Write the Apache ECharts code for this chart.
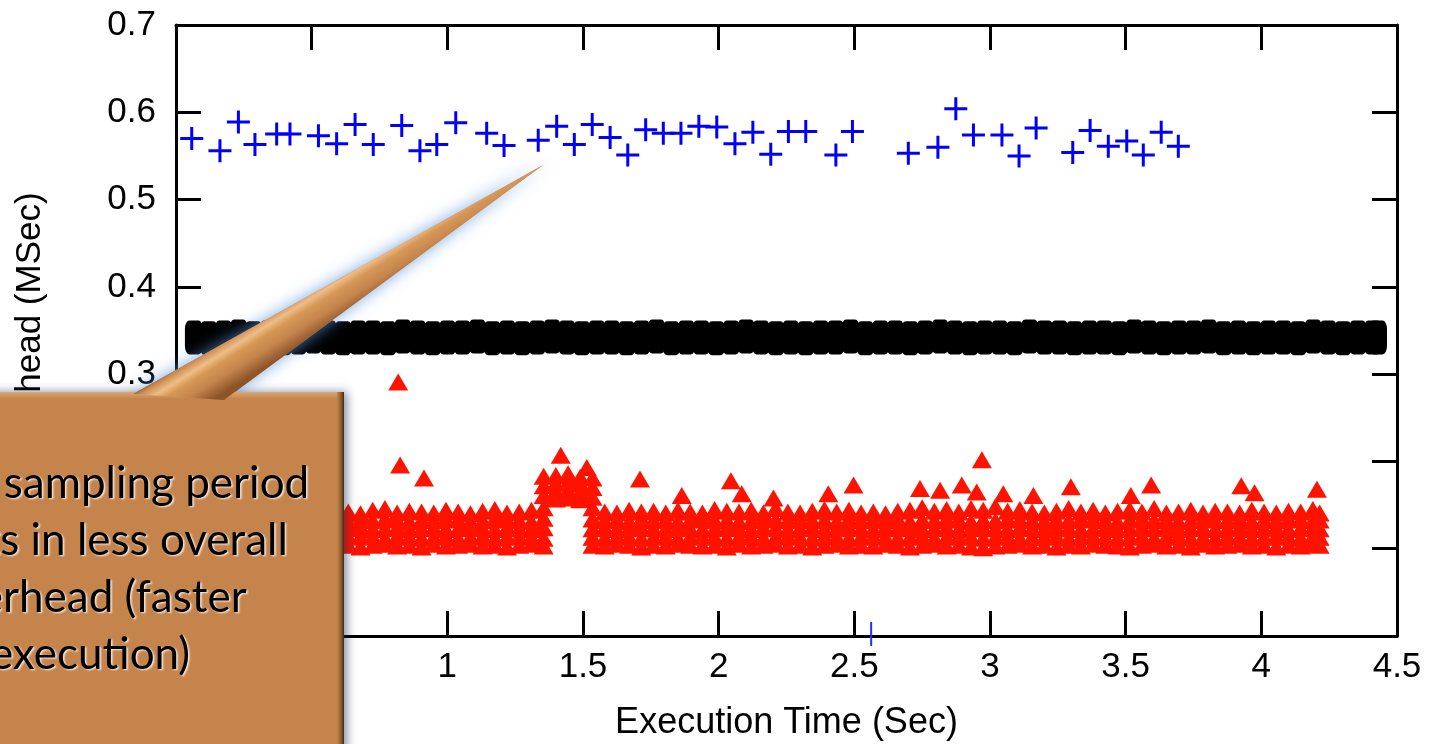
<!DOCTYPE html>
<html>
<head>
<meta charset="utf-8">
<title>Overhead vs Execution Time</title>
<script src="https://cdn.jsdelivr.net/npm/echarts@6/dist/echarts.min.js"></script>
<style>
  html, body { margin: 0; padding: 0; background: #ffffff; }
  #chart { width: 1435px; height: 744px; }
</style>
</head>
<body>
<div id="chart"></div>
<script>
// ---- axis text ----
const xTitle = 'Execution Time (Sec)';
const yTitle = 'Overhead (MSec)';
const calloutLines = ['Larger sampling period', 'results in less overall', 'overhead (faster', 'execution)'];

// ---- blue "+" samples (large sampling period) ----
const blueTimes = [0.058,0.162,0.230,0.291,0.371,0.420,0.525,0.592,0.660,0.727,
  0.832,0.899,0.961,1.031,1.145,1.209,1.335,1.403,1.468,1.534,
  1.600,1.665,1.731,1.796,1.861,1.927,1.993,2.060,2.126,2.192,
  2.257,2.321,2.432,2.493,2.699,2.808,2.874,2.939,3.044,3.107,
  3.170,3.305,3.369,3.436,3.504,3.565,3.631,3.694];
const blueOverhead = [0.570,0.556,0.589,0.563,0.575,0.575,0.573,0.564,0.586,0.563,
  0.585,0.556,0.563,0.588,0.576,0.562,0.568,0.584,0.563,0.586,
  0.571,0.551,0.580,0.576,0.576,0.584,0.583,0.564,0.577,0.552,
  0.578,0.578,0.551,0.578,0.553,0.560,0.604,0.574,0.574,0.550,
  0.582,0.554,0.579,0.561,0.567,0.551,0.577,0.561];

// ---- black samples (dense band) ----
const blackTimes = [0.066,0.121,0.176,0.231,0.286,0.341,0.396,0.451,0.506,0.561,
  0.616,0.671,0.726,0.781,0.836,0.891,0.946,1.001,1.056,1.111,
  1.166,1.221,1.276,1.331,1.386,1.441,1.496,1.551,1.606,1.661,
  1.716,1.771,1.826,1.881,1.936,1.991,2.046,2.101,2.156,2.211,
  2.266,2.321,2.376,2.431,2.486,2.541,2.596,2.651,2.706,2.761,
  2.816,2.871,2.926,2.981,3.036,3.091,3.146,3.201,3.256,3.311,
  3.366,3.421,3.476,3.531,3.586,3.641,3.696,3.751,3.806,3.861,
  3.916,3.971,4.026,4.081,4.136,4.191,4.246,4.301,4.356,4.411,4.430];
const blackOverhead = [0.342,0.341,0.342,0.343,0.341,0.342,0.341,0.342,0.343,0.342,
  0.341,0.342,0.342,0.341,0.343,0.342,0.341,0.342,0.342,0.343,
  0.341,0.342,0.341,0.342,0.343,0.342,0.341,0.342,0.342,0.341,
  0.342,0.343,0.341,0.342,0.342,0.341,0.342,0.343,0.342,0.341,
  0.342,0.341,0.342,0.342,0.343,0.341,0.342,0.342,0.341,0.342,
  0.343,0.342,0.341,0.342,0.342,0.341,0.343,0.342,0.342,0.341,
  0.342,0.342,0.341,0.343,0.342,0.341,0.342,0.342,0.343,0.341,
  0.342,0.341,0.342,0.342,0.341,0.343,0.342,0.341,0.342,0.342,0.342];

// ---- red triangle samples (dense band, five overlapping levels per time step) ----
const redTimes = [0.500,0.545,0.590,0.635,0.680,0.725,0.770,0.815,0.860,0.905,
  0.950,0.995,1.040,1.085,1.130,1.175,1.220,1.265,1.310,1.355,
  1.400,1.445,1.490,1.535,1.580,1.625,1.670,1.715,1.760,1.805,
  1.850,1.895,1.940,1.985,2.030,2.075,2.120,2.165,2.210,2.255,
  2.300,2.345,2.390,2.435,2.480,2.525,2.570,2.615,2.660,2.705,
  2.750,2.795,2.840,2.885,2.930,2.975,3.020,3.065,3.110,3.155,
  3.200,3.245,3.290,3.335,3.380,3.425,3.470,3.515,3.560,3.605,
  3.650,3.695,3.740,3.785,3.830,3.875,3.920,3.965,4.010,4.055,
  4.100,4.145,4.190,4.215];
const redLevel1 = [0.143,0.141,0.145,0.142,0.140,0.144,0.146,0.141,0.143,0.142,
  0.141,0.144,0.142,0.140,0.143,0.145,0.141,0.142,0.144,0.147,
  0.184,0.186,0.182,0.147,0.142,0.141,0.144,0.142,0.143,0.141,
  0.144,0.142,0.141,0.145,0.143,0.142,0.144,0.141,0.146,0.142,
  0.141,0.143,0.145,0.142,0.144,0.141,0.142,0.140,0.143,0.144,
  0.147,0.143,0.145,0.142,0.146,0.144,0.148,0.143,0.145,0.142,
  0.141,0.143,0.146,0.142,0.144,0.141,0.143,0.145,0.142,0.146,
  0.141,0.142,0.144,0.141,0.143,0.142,0.141,0.144,0.142,0.141,
  0.143,0.142,0.145,0.141];
const redLevel2 = [0.133,0.132,0.134,0.131,0.133,0.132,0.134,0.133,0.131,0.133,
  0.132,0.134,0.133,0.131,0.132,0.134,0.133,0.132,0.131,0.135,
  0.175,0.176,0.174,0.134,0.132,0.133,0.131,0.134,0.132,0.133,
  0.131,0.133,0.134,0.132,0.133,0.131,0.132,0.134,0.133,0.132,
  0.134,0.132,0.133,0.131,0.134,0.132,0.133,0.132,0.134,0.131,
  0.133,0.132,0.134,0.133,0.131,0.133,0.132,0.134,0.133,0.132,
  0.131,0.133,0.132,0.134,0.133,0.132,0.131,0.133,0.134,0.132,
  0.133,0.131,0.132,0.134,0.133,0.132,0.134,0.131,0.133,0.132,
  0.134,0.133,0.132,0.133];
const redLevel3 = [0.123,0.124,0.122,0.123,0.125,0.122,0.123,0.124,0.122,0.123,
  0.124,0.122,0.123,0.125,0.123,0.122,0.124,0.123,0.122,0.124,
  0.166,0.167,0.165,0.123,0.124,0.122,0.123,0.124,0.123,0.122,
  0.124,0.123,0.122,0.123,0.125,0.123,0.122,0.124,0.123,0.122,
  0.123,0.124,0.122,0.123,0.124,0.123,0.122,0.124,0.123,0.125,
  0.122,0.123,0.124,0.122,0.123,0.124,0.123,0.122,0.124,0.123,
  0.122,0.124,0.123,0.122,0.123,0.124,0.122,0.123,0.125,0.123,
  0.124,0.122,0.123,0.124,0.122,0.123,0.124,0.122,0.123,0.124,
  0.122,0.123,0.124,0.123];
const redLevel4 = [0.113,0.114,0.112,0.113,0.114,0.113,0.112,0.114,0.113,0.112,
  0.113,0.114,0.112,0.113,0.114,0.112,0.113,0.114,0.113,0.112,
  0.158,0.159,0.157,0.113,0.112,0.114,0.113,0.112,0.113,0.114,
  0.112,0.113,0.114,0.113,0.112,0.113,0.114,0.112,0.113,0.114,
  0.113,0.112,0.114,0.113,0.112,0.113,0.114,0.113,0.112,0.113,
  0.114,0.112,0.113,0.114,0.113,0.112,0.113,0.114,0.112,0.113,
  0.113,0.114,0.112,0.113,0.114,0.113,0.112,0.113,0.114,0.112,
  0.113,0.114,0.112,0.113,0.112,0.114,0.113,0.112,0.113,0.114,
  0.113,0.112,0.114,0.113];
const redLevel5 = [0.104,0.103,0.105,0.104,0.102,0.104,0.105,0.103,0.104,0.102,
  0.105,0.103,0.104,0.105,0.103,0.104,0.102,0.104,0.105,0.103,
  0.157,0.158,0.156,0.104,0.103,0.105,0.104,0.102,0.104,0.103,
  0.105,0.104,0.103,0.104,0.102,0.105,0.103,0.104,0.105,0.103,
  0.104,0.102,0.104,0.105,0.103,0.104,0.103,0.105,0.104,0.102,
  0.104,0.105,0.103,0.104,0.102,0.101,0.103,0.104,0.105,0.103,
  0.104,0.102,0.104,0.103,0.105,0.104,0.103,0.102,0.104,0.105,
  0.103,0.104,0.102,0.105,0.103,0.104,0.105,0.103,0.104,0.102,
  0.104,0.103,0.105,0.104];
// raised samples around t = 1.4 s
const redBumpTimes = [1.355,1.355,1.355,1.535,1.535,1.535];
const redBumpOverhead = [0.183,0.172,0.161,0.181,0.170,0.159];
// isolated high samples
const redPeakTimes = [0.819,0.826,0.914,1.418,1.514,1.710,1.864,2.045,2.085,2.202,
  2.404,2.497,2.742,2.816,2.896,2.951,2.970,3.049,3.160,3.298,
  3.519,3.594,3.926,3.975,4.205];
const redPeakOverhead = [0.291,0.196,0.181,0.207,0.193,0.180,0.161,0.178,0.163,0.158,
  0.163,0.173,0.169,0.167,0.173,0.165,0.202,0.163,0.161,0.171,
  0.161,0.173,0.172,0.164,0.168];

// ---- short blue mark on the time axis ----
const cursorTimes = [2.562];
const cursorValues = [0];

// ---- build [x, y] pairs for the series ----
const zip = (xs, ys) => xs.map((x, i) => [x, ys[i]]);
const blueData = zip(blueTimes, blueOverhead);
const blackData = zip(blackTimes, blackOverhead);
const redData = []
  .concat(zip(redTimes, redLevel1), zip(redTimes, redLevel2), zip(redTimes, redLevel3),
          zip(redTimes, redLevel4), zip(redTimes, redLevel5),
          zip(redBumpTimes, redBumpOverhead), zip(redPeakTimes, redPeakOverhead));
const cursorData = zip(cursorTimes, cursorValues);

// ---- styling ----
const FONT = "'Liberation Sans', Arial, Helvetica, sans-serif";
const frameLine = { show: true, onZero: false, lineStyle: { color: '#000', width: 3 } };
const innerTick = { show: true, inside: true, length: 25, lineStyle: { color: '#000', width: 3 } };
const labelStyle = { color: '#000', fontSize: 35, fontFamily: FONT };
const plusPath = 'path://M10,0h3v23h-3z M0,10h23v3h-23z';

const chart = echarts.init(document.getElementById('chart'), null, { renderer: 'canvas' });

const option = {
  animation: false,
  backgroundColor: '#ffffff',
  grid: { left: 176, right: 38, top: 25, bottom: 108, containLabel: false, outerBoundsMode: 'none' },
  xAxis: [
    {
      type: 'value', position: 'bottom', min: 0, max: 4.5, interval: 0.5,
      axisLine: frameLine, axisTick: innerTick, splitLine: { show: false },
      axisLabel: Object.assign({ margin: 14 }, labelStyle),
      name: xTitle, nameLocation: 'middle', nameGap: 69,
      nameTextStyle: { color: '#000', fontSize: 36, fontFamily: FONT }
    },
    {
      type: 'value', position: 'top', min: 0, max: 4.5, interval: 0.5,
      axisLine: frameLine, axisTick: innerTick, splitLine: { show: false },
      axisLabel: { show: false }
    }
  ],
  yAxis: [
    {
      type: 'value', position: 'left', min: 0, max: 0.7, interval: 0.1,
      axisLine: frameLine, axisTick: innerTick, splitLine: { show: false },
      axisLabel: Object.assign({ margin: 20 }, labelStyle),
      name: yTitle, nameLocation: 'middle', nameGap: 128,
      nameTextStyle: { color: '#000', fontSize: 35, fontFamily: FONT }
    },
    {
      type: 'value', position: 'right', min: 0, max: 0.7, interval: 0.1,
      axisLine: frameLine, axisTick: innerTick, splitLine: { show: false },
      axisLabel: { show: false }
    }
  ],
  series: [
    {
      name: 'black', type: 'scatter', data: blackData, silent: true,
      symbol: 'roundRect', symbolSize: [18, 34],
      itemStyle: { color: '#000000', opacity: 1 }
    },
    {
      name: 'red', type: 'scatter', data: redData, silent: true,
      symbol: 'triangle', symbolSize: [20, 17],
      itemStyle: { color: '#ff1200', opacity: 1 }
    },
    {
      name: 'blue', type: 'scatter', data: blueData, silent: true,
      symbol: plusPath, symbolSize: 23,
      itemStyle: { color: '#0000ff', opacity: 1 }
    },
    {
      name: 'cursor', type: 'scatter', data: cursorData, silent: true, clip: false,
      symbol: 'rect', symbolSize: [2, 24], symbolOffset: [0, -2],
      itemStyle: { color: '#2030ff', opacity: 1 }
    }
  ],
  graphic: [
    // glow behind the pointer
    {
      type: 'polygon', z: 100, silent: true,
      shape: { points: [[133, 394], [543, 165], [224, 400]] },
      style: { fill: '#c4844c', shadowColor: 'rgba(90,150,225,0.8)', shadowBlur: 16 }
    },
    // callout body
    {
      type: 'rect', z: 101, silent: true,
      shape: { x: -30, y: 392, width: 374, height: 420 },
      style: { fill: '#c4844c', shadowColor: 'rgba(30,50,90,0.55)', shadowBlur: 9, shadowOffsetX: 3, shadowOffsetY: 0 }
    },
    // top bevel
    {
      type: 'rect', z: 102, silent: true,
      shape: { x: -30, y: 392, width: 374, height: 7 },
      style: {
        fill: { type: 'linear', x: 0, y: 0, x2: 0, y2: 1,
          colorStops: [{ offset: 0, color: '#dba873' }, { offset: 1, color: '#c4844c' }] }
      }
    },
    // right bevel
    {
      type: 'rect', z: 102, silent: true,
      shape: { x: 337, y: 392, width: 7, height: 420 },
      style: {
        fill: { type: 'linear', x: 0, y: 0, x2: 1, y2: 0,
          colorStops: [{ offset: 0, color: '#c4844c' }, { offset: 0.6, color: '#8c5a30' }, { offset: 1, color: '#3c2a1a' }] }
      }
    },
    // pointer with highlight
    {
      type: 'polygon', z: 103, silent: true,
      shape: { points: [[133, 394], [543, 165], [224, 400]] },
      style: {
        fill: {
          type: 'linear', global: true, x: 164, y: 372, x2: 190, y2: 414,
          colorStops: [
            { offset: 0, color: '#8a5226' },
            { offset: 0.12, color: '#c88a50' },
            { offset: 0.3, color: '#f0bd86' },
            { offset: 0.45, color: '#d69858' },
            { offset: 0.7, color: '#c4844c' },
            { offset: 1, color: '#8e5428' }
          ]
        }
      }
    },
    // callout text
    {
      type: 'text', z: 104, silent: true,
      x: 90, y: 455,
      style: {
        text: calloutLines.join('\n'),
        fill: '#000000',
        fontSize: 44, fontFamily: "Lato, 'Open Sans', sans-serif",
        align: 'center', verticalAlign: 'top', lineHeight: 57,
        textShadowColor: 'rgba(255,255,255,0.85)', textShadowBlur: 2,
        textShadowOffsetX: 1.5, textShadowOffsetY: 1.5
      }
    }
  ]
};

chart.setOption(option);
</script>
</body>
</html>
